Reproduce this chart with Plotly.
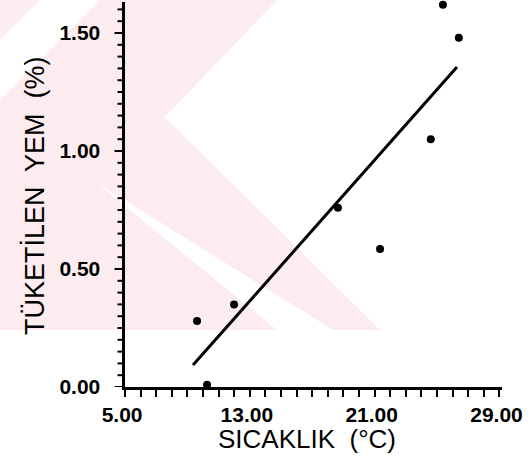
import plotly.graph_objects as go

# Data
temperature = [9.62, 10.26, 11.99, 18.65, 21.35, 24.60, 25.38, 26.40]
feed_consumed = [0.28, 0.01, 0.35, 0.76, 0.585, 1.05, 1.62, 1.48]
fit_x = [9.36, 26.28]
fit_y = [0.093, 1.356]

x_ticks = [5 + i for i in range(25)]
x_labels = {5: "5.00", 13: "13.00", 21: "21.00", 29: "29.00"}
y_ticks = [round(0.05 * i, 2) for i in range(33)]
y_labels = {0.0: "0.00", 0.5: "0.50", 1.0: "1.00", 1.5: "1.50"}

x_title = "SICAKLIK  (°C)"
y_title = "TÜKETİLEN  YEM  (%)"

W, H = 531, 456
L, R, T, B = 125, 29, 2, 69
PW, PH = W - L - R, H - T - B
NB = "\u00a0"


def pp(X, Y):
    return (X - L) / PW, (H - B - Y) / PH


def path(pts):
    s = ""
    for i, (X, Y) in enumerate(pts):
        px, py = pp(X, Y)
        s += ("M" if i == 0 else "L") + f"{px:.4f},{py:.4f} "
    return s + "Z"


pink = "rgb(253,236,239)"
watermark = [
    [(0, 0), (40, 0), (0, 40)],
    [(100, 0), (277, 0), (165, 117), (97, 183), (0, 280), (0, 100)],
    [(165, 117), (380, 330), (333, 330), (97, 183)],
    [(0, 280), (97, 183), (277, 330), (0, 330)],
]
shapes = [dict(type="path", path=path(p), xref="paper", yref="paper",
               fillcolor=pink, line=dict(width=0), layer="below") for p in watermark]

# y-axis tick marks (major longer than minor), drawn outside the axis line
for v in y_ticks:
    tl = 9 if v in y_labels else 6
    shapes.append(dict(type="line", xref="paper", yref="y",
                       x0=-(1.5 + tl) / PW, x1=-1.0 / PW, y0=v, y1=v,
                       line=dict(color="black", width=2), layer="above"))

fig = go.Figure()
fig.add_trace(go.Scatter(x=fit_x, y=fit_y, mode="lines",
                         line=dict(color="black", width=3), showlegend=False))
fig.add_trace(go.Scatter(x=temperature, y=feed_consumed, mode="markers",
                         marker=dict(color="black", size=8), showlegend=False,
                         cliponaxis=False))

tickfont = dict(family="Liberation Sans", size=21, color="black")
axis_common = dict(showgrid=False, zeroline=False, showline=True, linecolor="black",
                   linewidth=3, tickwidth=2, tickcolor="#000000", tickfont=tickfont,
                   tickmode="array", automargin=False, tickangle=0)

fig.update_layout(
    width=W, height=H,
    margin=dict(l=L, r=R, t=T, b=B),
    paper_bgcolor="white", plot_bgcolor="white",
    shapes=shapes,
    xaxis=dict(range=[5, 5 + (502 - 125) / 15.6],
               tickvals=x_ticks, ticks="outside", ticklen=7,
               ticktext=[("<b>" + x_labels[v] + NB + "</b>") if v in x_labels else " " for v in x_ticks],
               **axis_common),
    yaxis=dict(range=[0, (387 - 2) / 236],
               tickvals=y_ticks, ticks="",
               ticktext=[("<b>" + y_labels[v] + NB * 3 + "</b>") if v in y_labels else " " for v in y_ticks],
               **axis_common),
    annotations=[
        dict(text=x_title, xref="paper", yref="paper", x=pp(307, 439)[0], y=pp(307, 439)[1],
             showarrow=False, xanchor="center", yanchor="middle",
             font=dict(family="Liberation Sans", size=26, color="black")),
        dict(text=y_title, xref="paper", yref="paper", x=pp(35, 196)[0], y=pp(35, 196)[1],
             showarrow=False, xanchor="center", yanchor="middle", textangle=-90,
             font=dict(family="Liberation Sans", size=27, color="black")),
    ],
)

fig.write_html("out.html")
